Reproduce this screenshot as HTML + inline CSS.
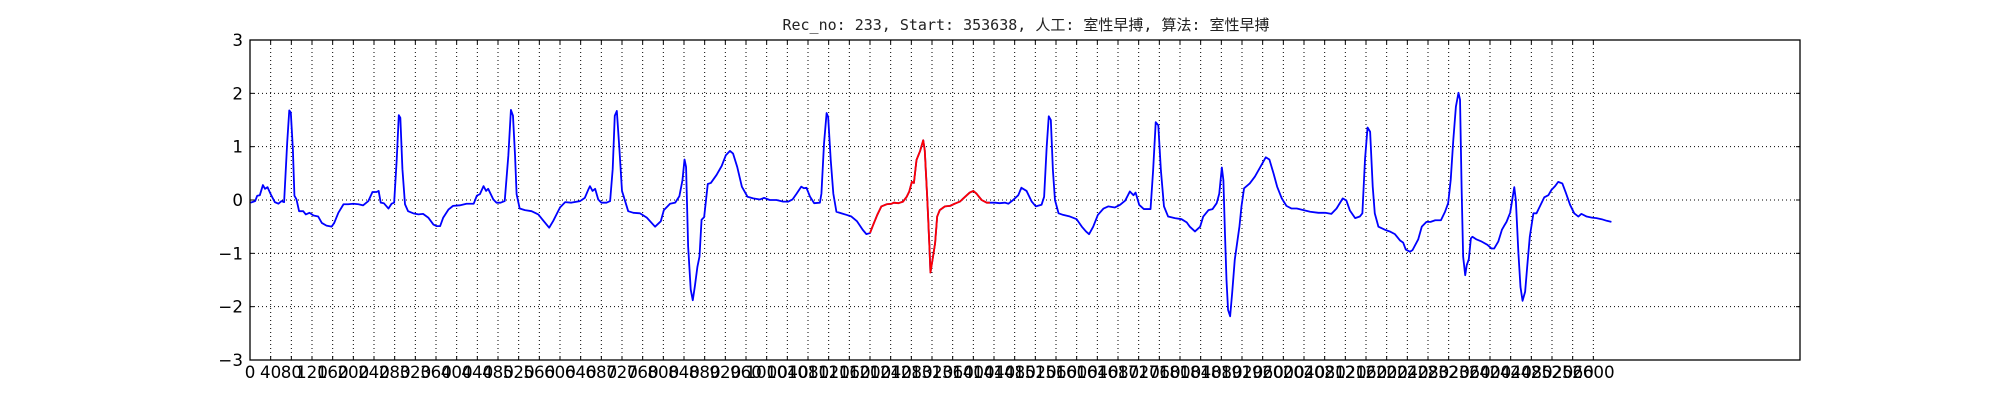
<!DOCTYPE html>
<html><head><meta charset="utf-8"><style>
html,body{margin:0;padding:0;background:#fff;}
svg{display:block;}
</style></head><body>
<svg id="chart" width="2000" height="400" xmlns="http://www.w3.org/2000/svg">
<rect x="0" y="0" width="2000" height="400" fill="#fff"/>
<text x="1026" y="30" text-anchor="middle" font-size="15" font-family="'DejaVu Sans Mono','Liberation Mono','Noto Sans CJK SC',monospace" fill="#222">Rec_no: 233, Start: 353638, 人工: 室性早搏, 算法: 室性早搏</text>
<g id="grid"></g>
<g id="ticks"></g>
<g id="series"></g>
<rect x="250" y="40" width="1550" height="320" fill="none" stroke="#000" stroke-width="1.3"/>
</svg>
<script>
const xTicks = [];
for (let t = 0; t <= 2600; t += 40) xTicks.push(t);
const yTicks = [3, 2, 1, 0, -1, -2, -3];
const xDomain = [0, 3000];
const yDomain = [-3, 3];
const samples = [1,10,14,19,25,29,34,40,48,55,61,66,72,76,79,83,86,90,95,103,108,115,123,132,139,148,158,163,171,181,190,200,210,219,229,237,245,249,253,259,268,274,279,284,288,291,295,300,306,316,326,335,345,355,361,368,374,384,393,406,419,433,439,445,452,457,461,471,477,485,493,500,505,509,513,516,522,532,545,558,568,574,579,587,600,610,622,639,648,655,658,663,668,674,680,690,697,702,706,710,715,720,726,732,742,755,768,784,795,801,813,823,831,837,841,844,848,853,857,861,866,870,874,879,886,892,903,913,921,929,935,943,952,963,974,987,995,1006,1019,1032,1042,1050,1058,1067,1072,1077,1084,1092,1103,1106,1111,1116,1119,1124,1129,1135,1145,1155,1164,1175,1186,1193,1200,1206,1214,1222,1232,1242,1246,1255,1264,1271,1276,1281,1285,1290,1297,1303,1306,1311,1315,1317,1321,1326,1330,1335,1345,1355,1364,1374,1384,1393,1400,1406,1416,1426,1432,1442,1451,1461,1468,1477,1487,1493,1503,1513,1521,1532,1537,1542,1546,1550,1554,1558,1565,1574,1587,1600,1610,1618,1624,1632,1641,1652,1661,1674,1684,1694,1703,1710,1714,1721,1730,1743,1748,1753,1758,1763,1769,1777,1790,1803,1813,1819,1829,1839,1845,1855,1863,1871,1876,1881,1884,1887,1890,1893,1897,1901,1906,1915,1919,1924,1935,1945,1955,1966,1973,1981,1988,1997,2006,2016,2026,2039,2052,2068,2081,2093,2103,2115,2122,2129,2139,2148,2153,2158,2163,2168,2173,2177,2184,2197,2206,2216,2226,2232,2237,2245,2250,2261,2268,2277,2285,2294,2305,2313,2319,2324,2329,2334,2339,2342,2345,2348,2352,2355,2359,2363,2366,2374,2384,2395,2403,2408,2416,2423,2427,2432,2439,2442,2447,2450,2455,2459,2463,2468,2472,2477,2484,2490,2497,2505,2513,2519,2526,2532,2540,2547,2555,2563,2571,2577,2587,2597,2606,2616,2626,2635];
const values = [-0.05,-0.02,0.08,0.09,0.28,0.21,0.24,0.11,-0.04,-0.07,-0.02,-0.04,1.08,1.68,1.64,0.95,0.08,0.01,-0.21,-0.21,-0.27,-0.24,-0.29,-0.31,-0.43,-0.48,-0.50,-0.43,-0.24,-0.08,-0.08,-0.07,-0.08,-0.10,-0.02,0.15,0.15,0.17,-0.05,-0.06,-0.16,-0.07,-0.05,0.76,1.59,1.54,0.58,-0.08,-0.21,-0.25,-0.27,-0.26,-0.33,-0.46,-0.49,-0.49,-0.33,-0.18,-0.11,-0.10,-0.07,-0.07,0.08,0.11,0.26,0.17,0.21,0.01,-0.05,-0.05,-0.02,0.83,1.69,1.58,0.83,0.11,-0.16,-0.19,-0.21,-0.27,-0.39,-0.46,-0.52,-0.39,-0.14,-0.04,-0.05,-0.02,0.04,0.20,0.26,0.17,0.21,0.01,-0.05,-0.05,-0.02,0.58,1.58,1.67,0.95,0.17,-0.02,-0.21,-0.24,-0.25,-0.33,-0.50,-0.40,-0.19,-0.07,-0.05,0.07,0.37,0.76,0.62,-0.87,-1.68,-1.88,-1.62,-1.25,-1.06,-0.37,-0.32,0.30,0.32,0.47,0.64,0.84,0.92,0.87,0.62,0.25,0.06,0.03,0.01,0.04,0.00,0.00,-0.03,-0.03,0.01,0.12,0.25,0.22,0.23,0.06,-0.06,-0.05,0.12,1.06,1.63,1.56,0.75,0.12,-0.22,-0.25,-0.28,-0.31,-0.40,-0.56,-0.64,-0.62,-0.47,-0.28,-0.12,-0.08,-0.07,-0.05,-0.06,-0.03,0.06,0.16,0.34,0.32,0.75,0.92,1.12,0.93,0.00,-0.87,-1.36,-1.12,-0.81,-0.31,-0.19,-0.12,-0.11,-0.07,-0.03,0.06,0.14,0.17,0.12,0.00,-0.05,-0.05,-0.05,-0.06,-0.05,-0.07,0.00,0.09,0.23,0.17,-0.03,-0.12,-0.09,0.06,1.00,1.57,1.50,0.56,0.00,-0.25,-0.28,-0.31,-0.36,-0.50,-0.59,-0.64,-0.50,-0.28,-0.16,-0.12,-0.14,-0.09,-0.01,0.16,0.09,0.14,-0.09,-0.17,-0.17,0.56,1.46,1.40,0.56,-0.12,-0.31,-0.34,-0.36,-0.42,-0.50,-0.59,-0.50,-0.31,-0.19,-0.17,-0.06,0.12,0.61,0.37,-0.62,-1.50,-2.06,-2.18,-1.74,-1.12,-0.50,-0.12,0.22,0.31,0.44,0.61,0.80,0.76,0.50,0.25,0.03,-0.11,-0.16,-0.16,-0.19,-0.22,-0.24,-0.24,-0.26,-0.16,0.03,-0.01,-0.20,-0.34,-0.31,-0.25,0.75,1.36,1.28,0.25,-0.25,-0.50,-0.56,-0.59,-0.64,-0.76,-0.80,-0.93,-0.97,-0.94,-0.74,-0.50,-0.41,-0.41,-0.38,-0.38,-0.22,-0.06,0.38,1.13,1.75,2.01,1.88,0.25,-1.06,-1.41,-1.22,-1.11,-0.72,-0.69,-0.74,-0.78,-0.84,-0.91,-0.91,-0.78,-0.56,-0.49,-0.41,-0.24,-0.06,0.24,0.00,-1.00,-1.63,-1.89,-1.72,-1.25,-0.69,-0.25,-0.25,-0.11,0.05,0.09,0.19,0.26,0.34,0.31,0.13,-0.09,-0.25,-0.31,-0.26,-0.31,-0.33,-0.34,-0.36,-0.39,-0.41];
const highlightRange = [1200, 1432];

const X0 = 250, X1 = 1800, Y0 = 40, Y1 = 360;
function xs(v){ return X0 + (v - xDomain[0]) / (xDomain[1] - xDomain[0]) * (X1 - X0); }
function ys(v){ return Y1 - (v - yDomain[0]) / (yDomain[1] - yDomain[0]) * (Y1 - Y0); }
const NS = 'http://www.w3.org/2000/svg';
const grid = document.getElementById('grid');
const ticks = document.getElementById('ticks');
const series = document.getElementById('series');
function mk(tag, attrs, parent){ const e = document.createElementNS(NS, tag); for (const k in attrs) e.setAttribute(k, attrs[k]); parent.appendChild(e); return e; }

xTicks.forEach(t => {
  const x = xs(t);
  if (t !== 0) {
    const g = mk('line', {x1:x, y1:Y0, x2:x, y2:Y1, stroke:'#000', 'stroke-width':1, 'stroke-dasharray':'1,3'}, grid);
    
    
  }
  const a = mk('line', {x1:x, y1:Y1, x2:x, y2:Y1-4, stroke:'#000', 'stroke-width':1}, ticks);
  
  
  const b = mk('line', {x1:x, y1:Y0, x2:x, y2:Y0+4, stroke:'#000', 'stroke-width':1}, ticks);
  
  
  const l = mk('text', {x:x, y:Y1+18, 'text-anchor':'middle', 'font-size':16.7, 'font-family':"'DejaVu Sans','Liberation Sans',sans-serif", fill:'#000'}, ticks);
  l.textContent = String(t);
  
  
});
yTicks.forEach(t => {
  const y = ys(t);
  if (t !== 3 && t !== -3) {
    const g = mk('line', {x1:X0, y1:y, x2:X1, y2:y, stroke:'#000', 'stroke-width':1, 'stroke-dasharray':'1,3'}, grid);
    
    
  }
  const a = mk('line', {x1:X0, y1:y, x2:X0+4, y2:y, stroke:'#000', 'stroke-width':1}, ticks);
  
  
  const b = mk('line', {x1:X1, y1:y, x2:X1-4, y2:y, stroke:'#000', 'stroke-width':1}, ticks);
  
  
  const l = mk('text', {x:X0-7, y:y+6, 'text-anchor':'end', 'font-size':16.7, 'font-family':"'DejaVu Sans','Liberation Sans',sans-serif", fill:'#000'}, ticks);
  l.textContent = t < 0 ? '\u2212' + Math.abs(t) : String(t);
  
  
});

function pathFor(filter){
  let d = '';
  samples.forEach((s, i) => {
    if (!filter(s)) return;
    d += (d ? 'L' : 'M') + xs(s).toFixed(2) + ',' + ys(values[i]).toFixed(2);
  });
  return d;
}
const blue = mk('path', {d:pathFor(() => true), fill:'none', stroke:'#0000ff', 'stroke-width':1.8, 'stroke-linejoin':'round'}, series);


const red = mk('path', {d:pathFor(s => s >= highlightRange[0] && s <= highlightRange[1]), fill:'none', stroke:'#ff0000', 'stroke-width':1.8, 'stroke-linejoin':'round'}, series);


</script>
</body></html>
